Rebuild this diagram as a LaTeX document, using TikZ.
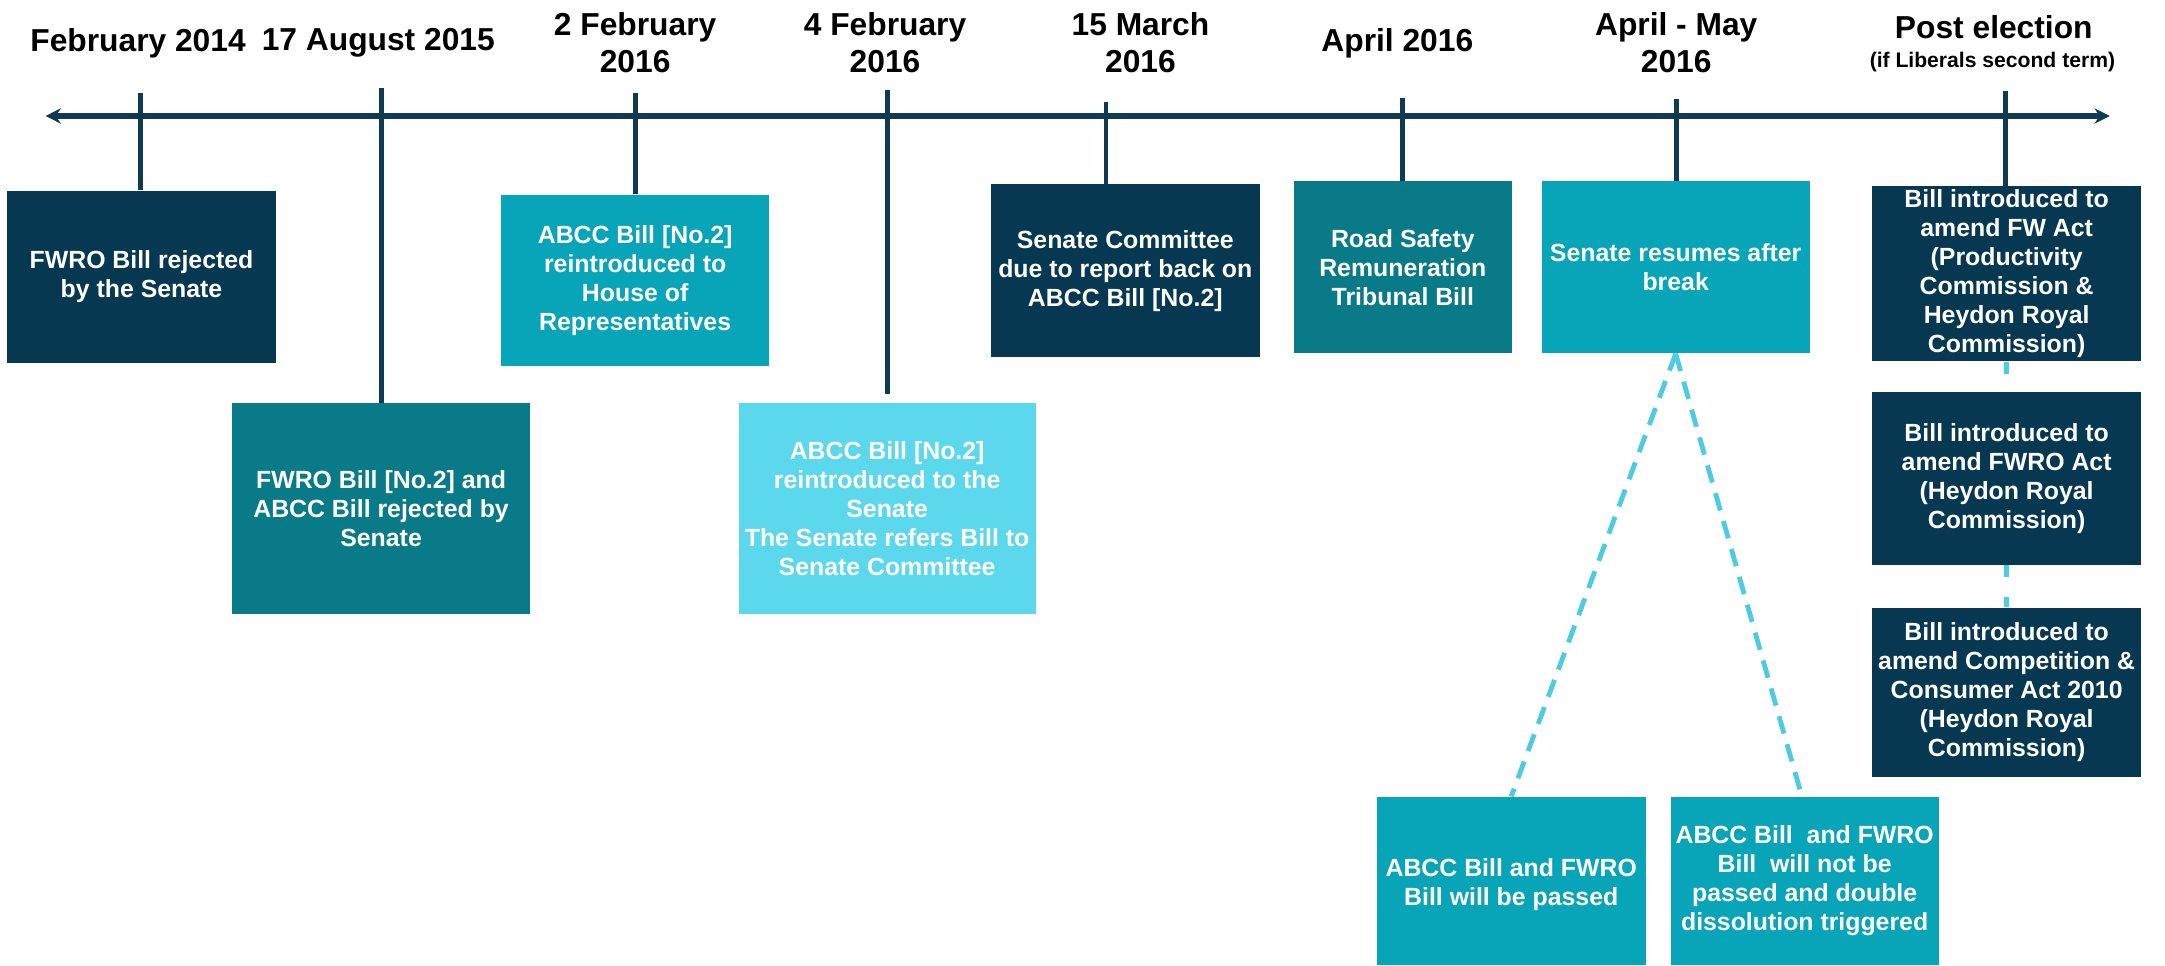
\documentclass[tikz,border=0pt]{standalone}
\usepackage{fontspec}
\setmainfont{Liberation Sans}
\usetikzlibrary{arrows.meta}
\definecolor{navy}{HTML}{063852}
\definecolor{tealdark}{HTML}{097A87}
\definecolor{tealmid}{HTML}{08A5B8}
\definecolor{cyanlight}{HTML}{5BD8EC}
\definecolor{dashcol}{HTML}{4ECBE2}
\definecolor{axiscol}{HTML}{0E3A52}
\tikzset{
  datelbl/.style={font=\bfseries\fontsize{23}{27}\selectfont, align=center, text=black, inner sep=0},
  boxnode/.style={text=white, font=\bfseries\fontsize{18}{21}\selectfont, align=center, inner sep=0},
  axisline/.style={draw=axiscol, line width=4pt},
  tickline/.style={draw=axiscol, line width=3.6pt},
  dashline/.style={draw=dashcol, line width=3.5pt, dash pattern=on 13pt off 8pt},
  dotline/.style={draw=dashcol, line width=4pt, dash pattern=on 9pt off 14pt},
}
\begin{document}
\begin{tikzpicture}[x=1pt,y=-1pt]
\useasboundingbox (0,0) rectangle (1568,699);
% axis
\coordinate (aL) at (33,84);
\coordinate (aR) at (1528,84);
\draw[axisline, {Stealth[length=11pt,width=11pt]}-{Stealth[length=11pt,width=11pt]}] (aL) -- (aR);
% dates
\node[datelbl] (d1) at (100,31) {February 2014};
\node[datelbl] (d2) at (274,31) {17 August 2015};
\node[datelbl] (d3) at (460,31) {2 February\\2016};
\node[datelbl] (d4) at (641,31) {4 February\\2016};
\node[datelbl] (d5) at (826,31) {15 March\\2016};
\node[datelbl] (d6) at (1012,31) {April 2016};
\node[datelbl] (d7) at (1214,31) {April - May\\2016};
\node[datelbl] (d8) at (1444,20) {Post election};
\node[datelbl, font=\bfseries\fontsize{15.3}{18}\selectfont] (d8b) at (1443,45) {(if Liberals second term)};
% boxes
\node[boxnode, fill=navy, minimum width=195, minimum height=125] (b1) at (102.5,200.5) {FWRO Bill rejected\\by the Senate};
\node[boxnode, fill=tealdark, minimum width=216, minimum height=153] (b2) at (276,368.5) {FWRO Bill [No.2] and\\ABCC Bill rejected by\\Senate};
\node[boxnode, fill=tealmid, minimum width=194, minimum height=124] (b3) at (460,203) {ABCC Bill [No.2]\\reintroduced to\\House of\\Representatives};
\node[boxnode, fill=cyanlight, minimum width=215, minimum height=153] (b4) at (642.5,368.5) {ABCC Bill [No.2]\\reintroduced to the\\Senate\\The Senate refers Bill to\\Senate Committee};
\node[boxnode, fill=navy, minimum width=195, minimum height=125] (b5) at (815,196) {Senate Committee\\due to report back on\\ABCC Bill [No.2]};
\node[boxnode, fill=tealdark, minimum width=158, minimum height=125] (b6) at (1016,193.5) {Road Safety\\Remuneration\\Tribunal Bill};
\node[boxnode, fill=tealmid, minimum width=194, minimum height=125] (b7) at (1213.6,193.5) {Senate resumes after\\break};
\node[boxnode, fill=navy, minimum width=195, minimum height=127] (b8) at (1453.3,198.3) {Bill introduced to\\amend FW Act\\(Productivity\\Commission \&\\Heydon Royal\\Commission)};
\node[boxnode, fill=navy, minimum width=195, minimum height=125] (b9) at (1453.3,346.5) {Bill introduced to\\amend FWRO Act\\(Heydon Royal\\Commission)};
\node[boxnode, fill=navy, minimum width=195, minimum height=123] (b10) at (1453.3,501.5) {Bill introduced to\\amend Competition \&\\Consumer Act 2010\\(Heydon Royal\\Commission)};
\node[boxnode, fill=tealmid, minimum width=195, minimum height=122] (b11) at (1094.5,638) {\\[-2pt]ABCC Bill and FWRO\\Bill will be passed};
\node[boxnode, fill=tealmid, minimum width=194, minimum height=122] (b12) at (1307,638) {ABCC Bill\ \ and FWRO\\Bill\ \ will not be\\passed and double\\dissolution triggered};
% ticks
\coordinate (t1) at (101.5,67);
\coordinate (t2) at (276,64);
\coordinate (t3) at (460,67);
\coordinate (t4) at (643,65);
\coordinate (t4e) at (643,285);
\coordinate (t5) at (801,74);
\coordinate (t6) at (1016,71);
\coordinate (t7) at (1214.5,72);
\coordinate (t8) at (1452.8,66);
\draw[tickline] (t1) -- (t1 |- b1.north);
\draw[tickline] (t2) -- (t2 |- b2.north);
\draw[tickline] (t3) -- (t3 |- b3.north);
\draw[tickline] (t4) -- (t4e);
\draw[tickline] (t5) -- (t5 |- b5.north);
\draw[tickline] (t6) -- (t6 |- b6.north);
\draw[tickline] (t7) -- (t7 |- b7.north);
\draw[tickline] (t8) -- (t8 |- b8.north);
% dashed connectors
\draw[dashline] (b7.south) -- (b11.north);
\draw[dashline] (b7.south) -- ([xshift=-2pt]b12.north);
\draw[dotline] (b8.south) -- (b9.north);
\draw[dotline] (b9.south) -- (b10.north);
\end{tikzpicture}
\end{document}
